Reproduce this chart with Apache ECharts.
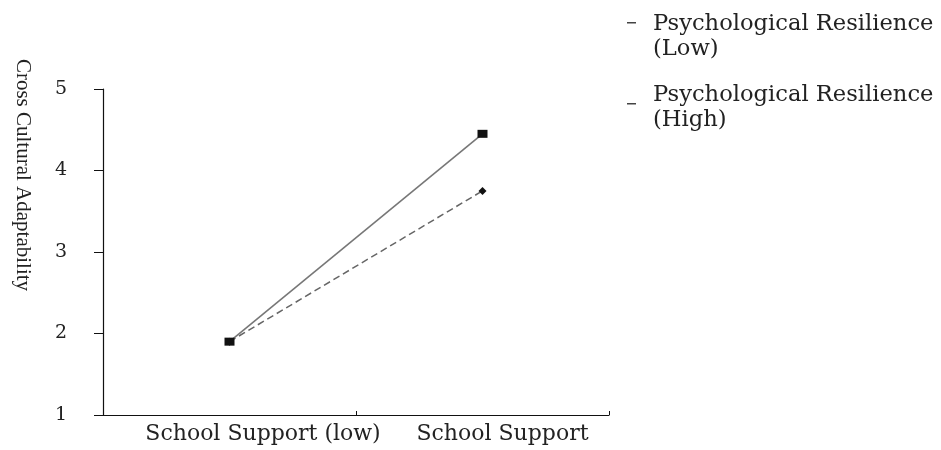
<!DOCTYPE html>
<html><head><meta charset="utf-8">
<script src="https://cdn.jsdelivr.net/npm/echarts@6/dist/echarts.min.js"></script>
<style>html,body{margin:0;padding:0;background:#fff}#c{width:941px;height:450px}</style>
</head><body><div id="c"></div>
<script>
const categories = ['School Support (low)', 'School Support'];
const seriesNames = ['Psychological Resilience (Low)', 'Psychological Resilience (High)'];
const lowResilience = [1.9, 3.75];
const highResilience = [1.9, 4.45];
const yTicks = [1, 2, 3, 4, 5];

const font = 'DejaVu Serif, serif';
const nameFont = 'Liberation Serif, Times New Roman, serif';
const chart = echarts.init(document.getElementById('c'));
chart.setOption({
  animation: false,
  backgroundColor: '#fff',
  grid: {left: 103, right: 332, top: 89, bottom: 35, outerBoundsMode: 'none', containLabel: false},
  legend: {
    orient: 'vertical', left: 622, top: 7, itemGap: 21,
    itemWidth: 9, itemHeight: 50,
    textStyle: {fontFamily: font, fontSize: 22.6, color: '#222', lineHeight: 25, padding: [0,0,0,12]},
    formatter: n => n.replace('Resilience ', 'Resilience\n'),
    data: [
      {name: seriesNames[0], icon: 'path://M0,0L9,0L9,0Z M0,10L9,10L9,11.5L0,11.5Z M0,50L9,50L9,50Z', itemStyle: {color: '#444', borderWidth: 0}},
      {name: seriesNames[1], icon: 'path://M0,0L9,0L9,0Z M0,20L9,20L9,21.5L0,21.5Z M0,50L9,50L9,50Z', itemStyle: {color: '#444', borderWidth: 0}}
    ]
  },
  xAxis: {
    type: 'category', data: categories, boundaryGap: true,
    axisLine: {lineStyle: {color: '#111', width: 1.2}},
    axisTick: {show: true, inside: true, length: 4, interval: 0, lineStyle: {color: '#111'}},
    axisLabel: {
      interval: 0, margin: 8, color: '#222', fontFamily: font, fontSize: 22,
      formatter: (v, i) => i === 0 ? '{a|' + v + '}' : '{b|' + v + '}',
      rich: {
        a: {fontFamily: font, fontSize: 22, color: '#222', padding: [0, 0, 0, 67]},
        b: {fontFamily: font, fontSize: 22, color: '#222', padding: [0, 0, 0, 40]}
      }
    }
  },
  yAxis: {
    type: 'value', min: yTicks[0], max: yTicks[yTicks.length - 1], interval: 1,
    name: 'Cross Cultural Adaptability', nameLocation: 'middle', nameRotate: -90, nameGap: 70,
    nameTextStyle: {fontFamily: nameFont, fontSize: 21, color: '#222', padding: [0, 154, 0, 0]},
    axisLine: {show: true, lineStyle: {color: '#111', width: 1.2}},
    axisTick: {show: true, length: 9, lineStyle: {color: '#111'}},
    splitLine: {show: false},
    axisLabel: {margin: 36, color: '#222', fontFamily: font, fontSize: 19}
  },
  series: [
    {
      name: seriesNames[0], type: 'line', data: lowResilience,
      symbol: 'diamond', symbolSize: 8,
      itemStyle: {color: '#111'},
      lineStyle: {color: '#666', width: 1.5, type: [7, 4]}
    },
    {
      name: seriesNames[1], type: 'line', data: highResilience,
      symbol: 'rect', symbolSize: [10, 8],
      itemStyle: {color: '#111'},
      lineStyle: {color: '#777', width: 1.6}
    }
  ]
});
</script></body></html>
